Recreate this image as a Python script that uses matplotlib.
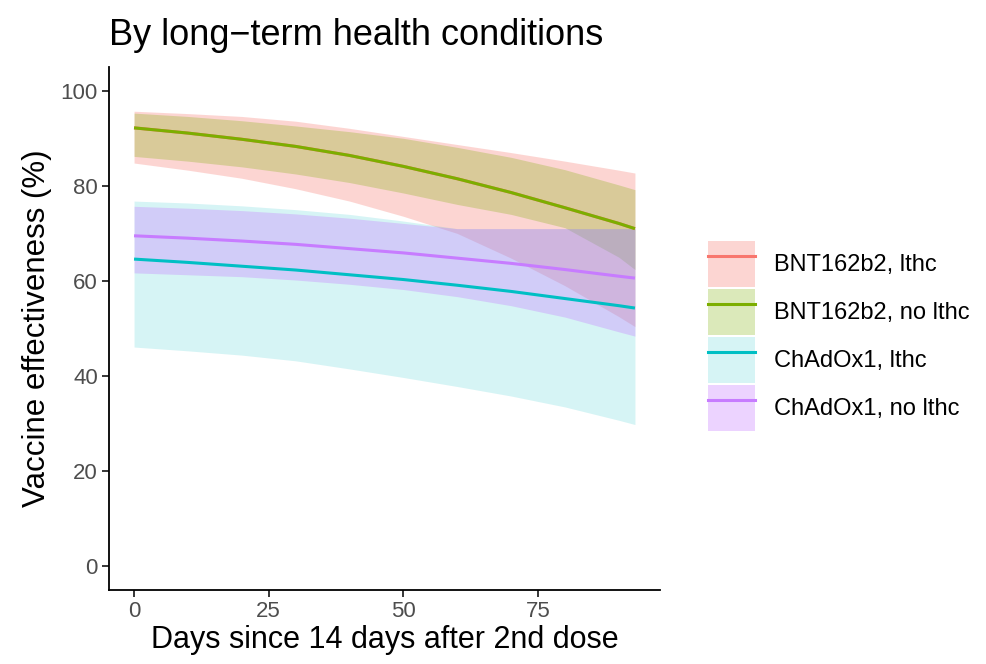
import matplotlib
matplotlib.use("Agg")
import matplotlib.pyplot as plt
from matplotlib.patches import Patch
from matplotlib.lines import Line2D

plt.rcParams['font.family'] = ['Liberation Sans', 'DejaVu Sans']

# ---- data ----
days = [0, 10, 20, 30, 40, 50, 60, 70, 80, 90, 93]

series_names = ["BNT162b2, lthc", "BNT162b2, no lthc", "ChAdOx1, lthc", "ChAdOx1, no lthc"]

bnt_lthc_est = [92.2, 91.1, 89.8, 88.3, 86.4, 84.1, 81.5, 78.6, 75.4, 72.1, 71.0]
bnt_lthc_lo = [84.8, 83.3, 81.6, 79.4, 76.8, 73.6, 70.0, 64.8, 59.0, 52.5, 50.4]
bnt_lthc_hi = [95.7, 95.2, 94.6, 93.6, 92.1, 90.4, 88.7, 87.0, 85.2, 83.3, 82.7]

bnt_no_est = [92.2, 91.1, 89.8, 88.3, 86.4, 84.1, 81.5, 78.6, 75.4, 72.1, 71.0]
bnt_no_lo = [86.2, 85.2, 84.0, 82.5, 80.7, 78.5, 76.1, 74.0, 71.2, 65.0, 62.4]
bnt_no_hi = [95.3, 94.6, 93.7, 92.6, 91.4, 90.0, 88.1, 86.0, 83.4, 80.2, 79.2]

chad_lthc_est = [64.6, 63.9, 63.1, 62.3, 61.3, 60.3, 59.1, 57.8, 56.3, 54.8, 54.3]
chad_lthc_lo = [46.1, 45.3, 44.4, 43.2, 41.5, 39.7, 37.8, 35.8, 33.5, 30.7, 29.8]
chad_lthc_hi = [76.8, 76.4, 75.8, 75.0, 74.0, 72.6, 71.0, 71.0, 71.0, 71.0, 71.0]

chad_no_est = [69.5, 69.0, 68.4, 67.7, 66.8, 65.9, 64.8, 63.7, 62.4, 61.0, 60.6]
chad_no_lo = [61.7, 61.3, 60.9, 60.2, 59.3, 58.2, 56.7, 54.8, 52.4, 49.3, 48.4]
chad_no_hi = [75.7, 75.3, 74.8, 74.1, 73.2, 72.1, 71.0, 71.0, 71.0, 71.0, 71.0]

x_ticks = [0, 25, 50, 75]
y_ticks = [0, 20, 40, 60, 80, 100]

colors = ["#F8766D", "#7CAE00", "#00BFC4", "#C77CFF"]
band_alphas = [0.30, 0.27, 0.16, 0.33]

est = [bnt_lthc_est, bnt_no_est, chad_lthc_est, chad_no_est]
lo = [bnt_lthc_lo, bnt_no_lo, chad_lthc_lo, chad_no_lo]
hi = [bnt_lthc_hi, bnt_no_hi, chad_lthc_hi, chad_no_hi]

# ---- figure ----
fig = plt.figure(figsize=(9.86, 6.64), dpi=100)
ax = fig.add_axes([109 / 986, 1 - 590 / 664, (660 - 109) / 986, (590 - 67) / 664])

for c, a, l, h in zip(colors, band_alphas, lo, hi):
    ax.fill_between(days, l, h, color=c, alpha=a, linewidth=0)
for c, e in zip(colors, est):
    ax.plot(days, e, color=c, lw=2.2, solid_capstyle='butt')

ax.set_xlim(-4.65, 97.65)
ax.set_ylim(-5, 105)
ax.set_xticks(x_ticks)
ax.set_yticks(y_ticks)
ax.tick_params(axis='both', labelsize=16, labelcolor='#4D4D4D', color='black',
               length=5, width=1.1, pad=3)
for s in ['top', 'right']:
    ax.spines[s].set_visible(False)
for s in ['left', 'bottom']:
    ax.spines[s].set_linewidth(1.3)
    ax.spines[s].set_color('black')

ax.set_xlabel("Days since 14 days after 2nd dose", fontsize=22, color='black', labelpad=2)
ax.set_ylabel("Vaccine effectiveness (%)", fontsize=22.5, color='black', labelpad=6)
ax.set_title("By long\u2212term health conditions", fontsize=26, loc='left', pad=16, color='black')

handles = []
for c, a in zip(colors, band_alphas):
    handles.append((Patch(facecolor=c, alpha=a, edgecolor='none'),
                    Line2D([], [], color=c, lw=2.2)))
fig.legend(handles, series_names, loc='center left', bbox_to_anchor=(708 / 986, 1 - 336 / 664),
           frameon=False, fontsize=17, handlelength=2.0, handleheight=2.62,
           labelspacing=0.08, handletextpad=0.8, borderpad=0, borderaxespad=0)

fig.savefig("out.png", dpi=100)
